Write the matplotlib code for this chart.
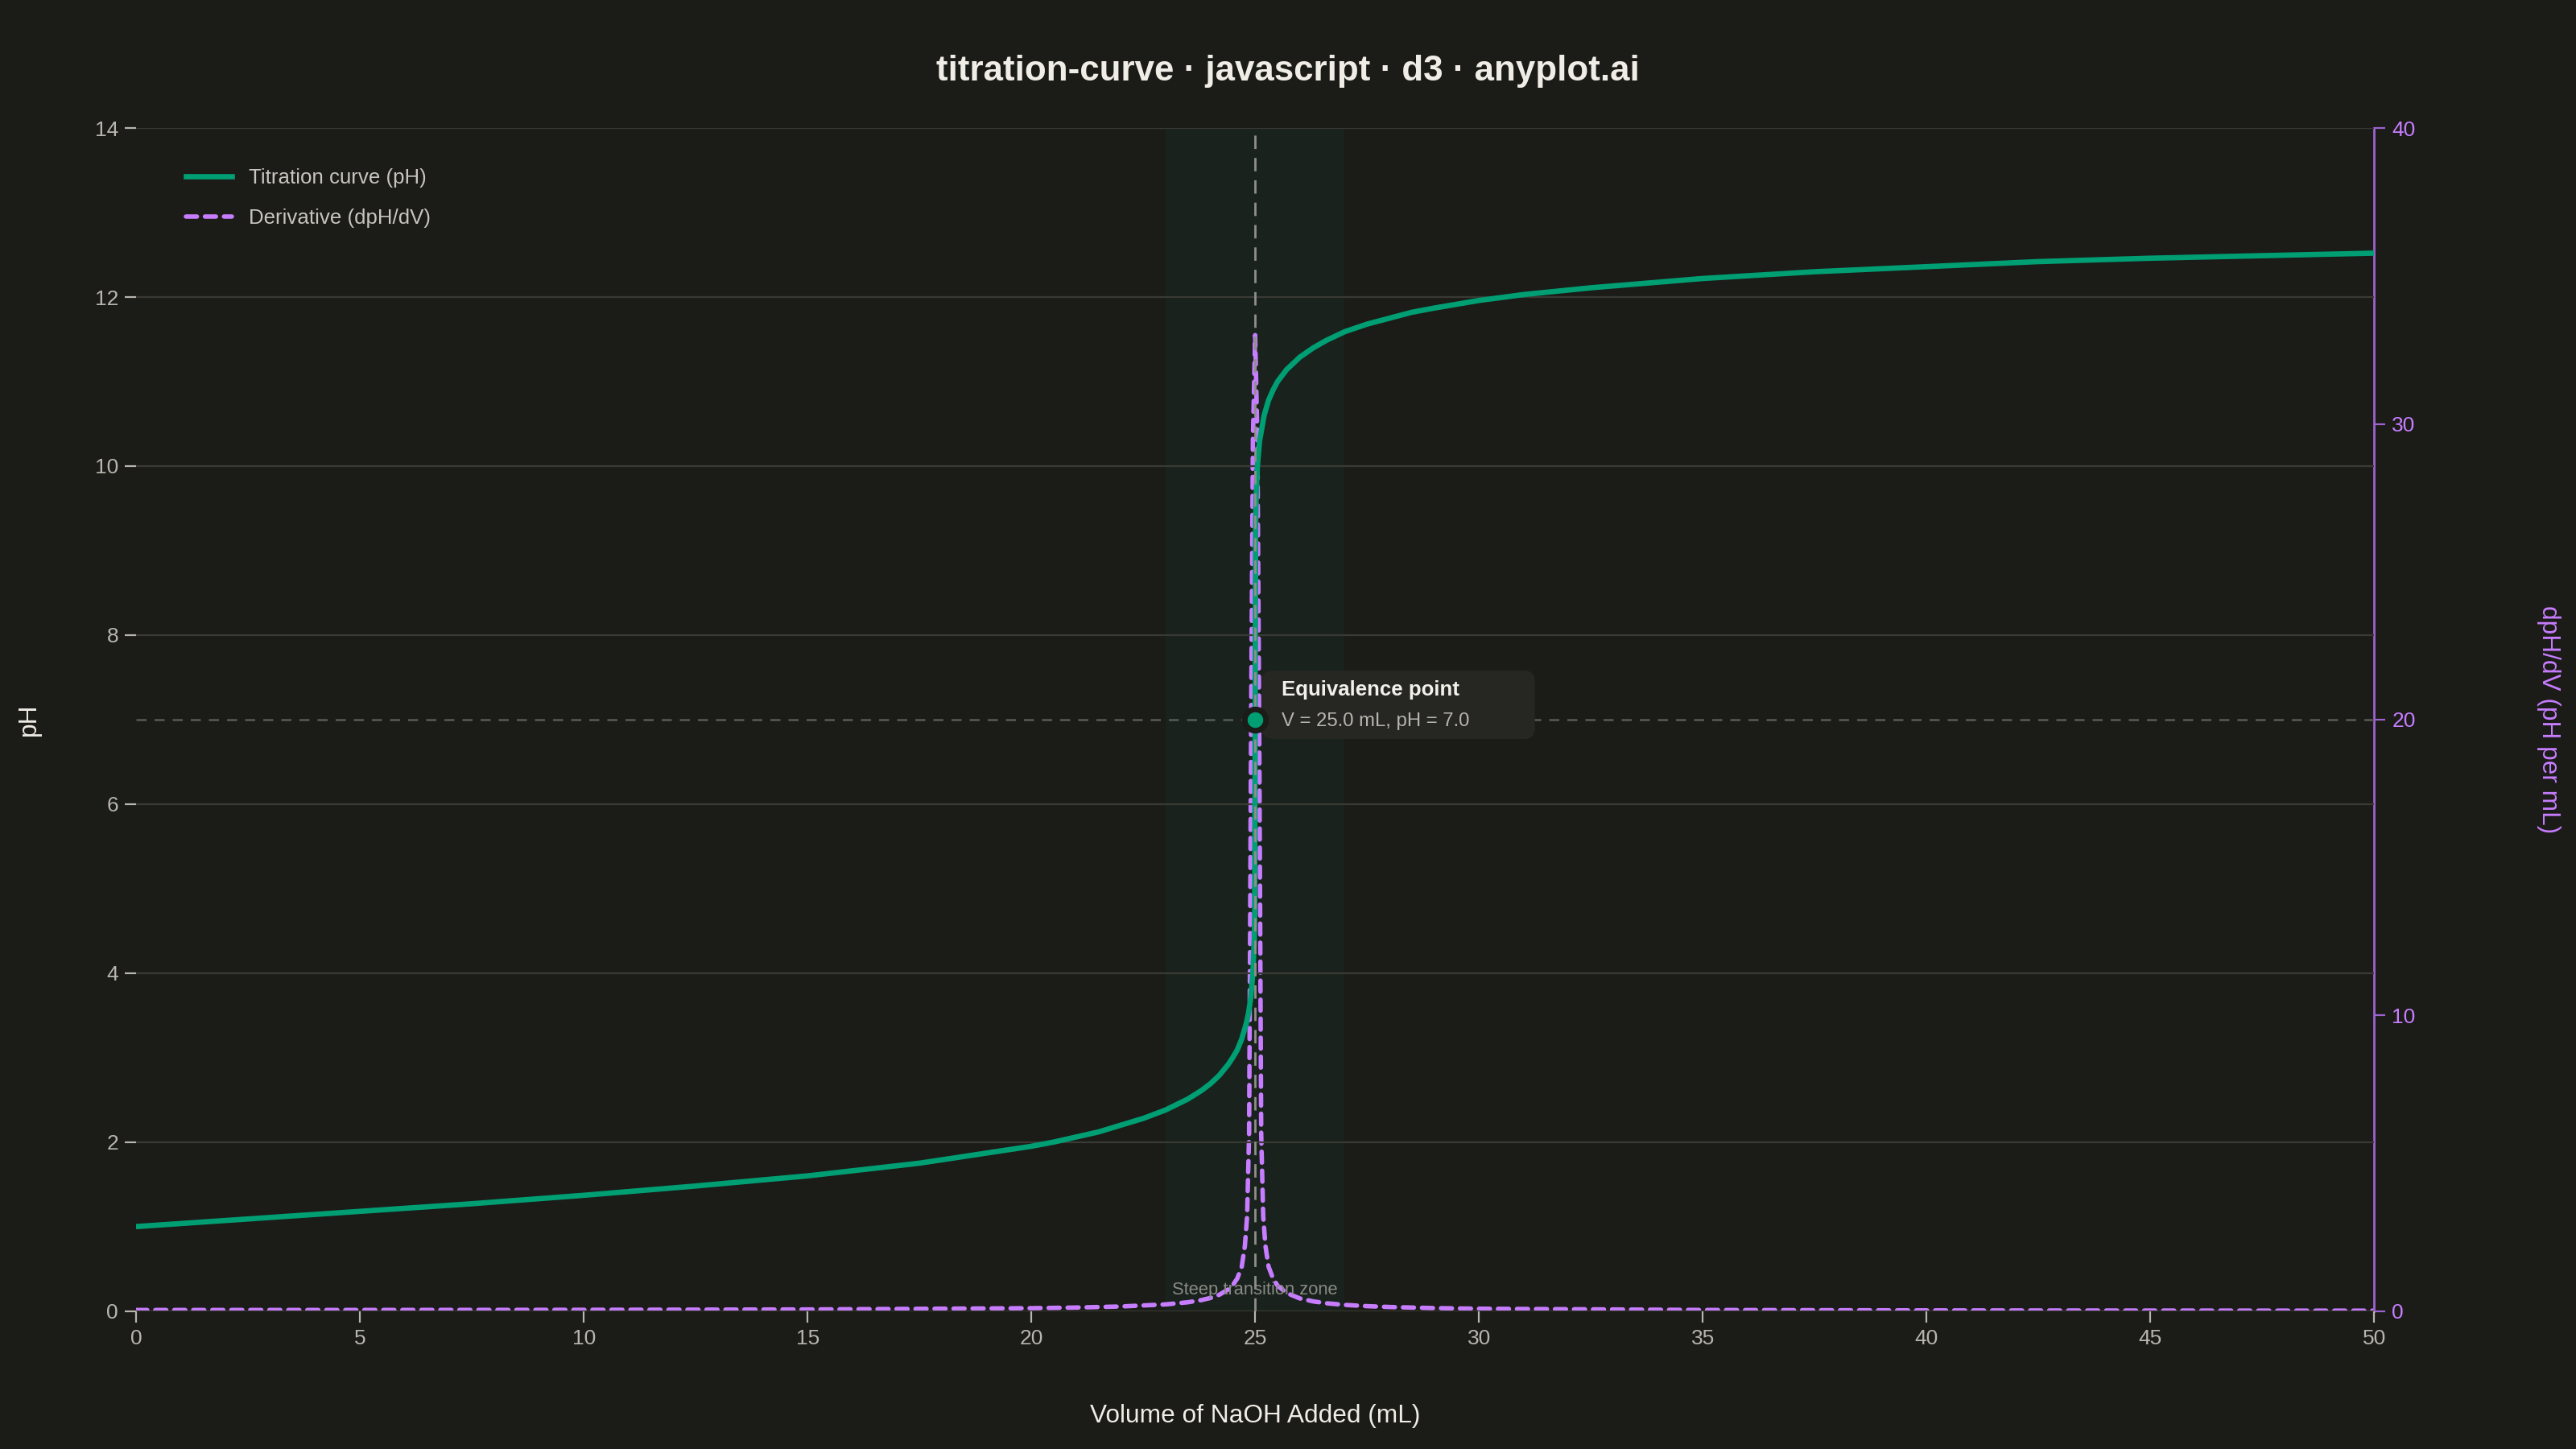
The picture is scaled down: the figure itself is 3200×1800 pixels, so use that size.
import matplotlib
matplotlib.use("Agg")
import matplotlib.pyplot as plt
from matplotlib.patches import FancyBboxPatch

plt.rcParams['font.family'] = ['Liberation Sans', 'DejaVu Sans']

# Volume of NaOH added (mL) and the pH
volume = [0, 2.5, 5, 7.5, 10, 12.5, 15, 17.5, 20, 20.5, 21, 21.5, 22, 22.5, 23,
          23.5, 23.8, 24, 24.2, 24.4, 24.5, 24.6, 24.7, 24.8, 24.85, 24.9, 24.95,
          24.98, 24.99, 25.0, 25.01, 25.02, 25.05, 25.1, 25.2, 25.3, 25.4, 25.5,
          25.7, 26, 26.3, 26.6, 27, 27.5, 28, 28.5, 29, 30, 31, 32.5, 35, 37.5,
          40, 42.5, 45, 47.5, 50]
ph = [1.00, 1.09, 1.18, 1.27, 1.37, 1.48, 1.60, 1.75, 1.95, 2.00, 2.06, 2.12, 2.20,
      2.28, 2.38, 2.51, 2.61, 2.69, 2.79, 2.92, 3.00, 3.09, 3.22, 3.40, 3.52, 3.70,
      4.00, 4.40, 4.70, 7.00, 9.30, 9.60, 10.00, 10.30, 10.60, 10.78, 10.90, 11.00,
      11.14, 11.29, 11.40, 11.49, 11.59, 11.68, 11.75, 11.82, 11.87, 11.96, 12.03,
      12.11, 12.22, 12.30, 12.36, 12.42, 12.46, 12.49, 12.52]

# first derivative dpH/dV (pH per mL)
dvolume = [0, 5, 10, 15, 20, 21, 22, 23, 23.5, 23.8, 24, 24.2, 24.4, 24.5, 24.6,
           24.7, 24.77, 24.82, 24.865, 24.91, 24.95, 25.0, 25.05, 25.09, 25.135,
           25.18, 25.23, 25.3, 25.4, 25.5, 25.7, 26, 26.3, 26.6, 27, 27.5, 28, 29,
           30, 35, 40, 45, 50]
dph = [0.035, 0.036, 0.041, 0.054, 0.097, 0.119, 0.154, 0.226, 0.298, 0.371, 0.443,
       0.552, 0.733, 0.877, 1.10, 1.50, 2.20, 3.20, 6.0, 20.0, 29.5, 33.0, 29.5,
       20.0, 6.0, 3.20, 2.20, 1.50, 1.10, 0.86, 0.612, 0.426, 0.326, 0.263, 0.209,
       0.165, 0.137, 0.100, 0.079, 0.036, 0.022, 0.016, 0.012]

eq_volume = 25.0
eq_ph = 7.0
zone = (23, 27)

bg = '#1b1b17'
green = '#009E73'
purple = '#c77dff'
grid_c = '#3a3a35'
tick_c = '#b8b5ae'
dash = (0, (2.45, 1.8))

fig, ax = plt.subplots(figsize=(16, 9), dpi=200)
fig.patch.set_facecolor(bg)
ax2 = ax.twinx()
ax.set_zorder(ax2.get_zorder() + 1)
ax.patch.set_visible(False)
ax2.patch.set_facecolor(bg)
fig.subplots_adjust(left=0.0529, right=0.9216, top=0.9116, bottom=0.0952)

# transition zone and derivative on the lower (right) axis
ax2.axvspan(zone[0], zone[1], color=green, alpha=0.06, lw=0, zorder=0)
ax2.plot(dvolume, dph, color=purple, lw=2.0, ls=dash, dash_capstyle='round', zorder=2)

# pH curve and guides on the upper axis
ax.axhline(eq_ph, color='#5a5a55', lw=0.9, ls=(0, (5, 4)), zorder=1)
ax.plot(volume, ph, color=green, lw=2.4, zorder=3, label='Titration curve (pH)')
ax.axvline(eq_volume, color='#8f8f8a', lw=1.0, ls=(0, (6, 4)), zorder=4)
ax.plot([eq_volume], [eq_ph], 'o', color=green, ms=9.5, mec=bg, mew=2.5, zorder=6)

# legend proxy for the derivative
ax.plot([], [], color=purple, lw=2.0, ls=dash, dash_capstyle='round',
        label='Derivative (dpH/dV)')
leg = ax.legend(loc='upper left', bbox_to_anchor=(0.014, 0.982), frameon=False,
                fontsize=9.3, handlelength=2.2, labelspacing=1.0)
for t in leg.get_texts():
    t.set_color('#c8c5be')

# annotation box
box = FancyBboxPatch((25.15, 6.77), 6.1, 0.81, boxstyle='round,pad=0,rounding_size=0.25',
                     mutation_aspect=0.5, fc='#262622', ec='none', zorder=5)
ax.add_patch(box)
ax.text(25.59, 7.35, 'Equivalence point', color='#f2f0ea', fontsize=9.3,
        fontweight='bold', va='center', ha='left', zorder=6)
ax.text(25.59, 6.98, 'V = 25.0 mL, pH = 7.0', color='#b8b5ae', fontsize=8.6,
        va='center', ha='left', zorder=6)
ax.text(sum(zone) / 2, 0.25, 'Steep transition zone', color='#8a8a85', fontsize=7.9,
        ha='center', va='center', zorder=6)

# axes styling
ax.set_xlim(0, 50)
ax.set_ylim(0, 14)
ax2.set_ylim(0, 40)
ax.set_xticks(range(0, 51, 5))
ax.set_yticks(range(0, 15, 2))
ax2.set_yticks(range(0, 41, 10))
ax.yaxis.grid(True, color=grid_c, lw=0.8)
ax.set_axisbelow(True)
for s in ax.spines.values():
    s.set_visible(False)
for name, s in ax2.spines.items():
    s.set_visible(name == 'right')
ax2.spines['right'].set_color('#9b63cf')
ax2.spines['right'].set_linewidth(1.0)

ax.tick_params(colors=tick_c, labelsize=9.5, length=5, width=0.8, pad=3)
ax2.tick_params(axis='y', colors='#9b63cf', labelcolor=purple, labelsize=9.5,
                length=5, width=0.8, pad=3)

ax.set_xlabel('Volume of NaOH Added (mL)', color='#f0ede6', fontsize=11.4, labelpad=25)
ax.set_ylabel('pH', color='#f0ede6', fontsize=11.4, labelpad=24)
ax2.set_ylabel('dpH/dV (pH per mL)', color=purple, fontsize=11.4, rotation=-90,
               va='bottom', labelpad=54)

fig.suptitle('titration-curve · javascript · d3 · anyplot.ai', color='#f0ede6',
             fontsize=15.8, fontweight='bold', y=0.951, va='center')

fig.savefig('out.png', dpi=200, facecolor=bg)
